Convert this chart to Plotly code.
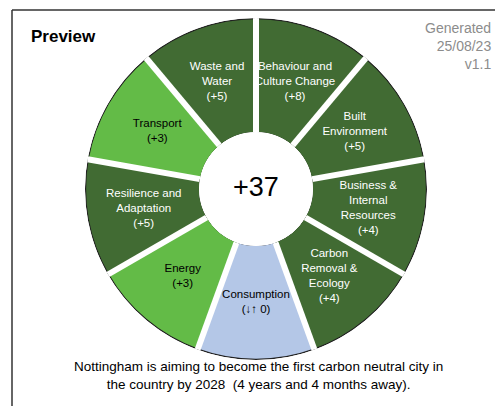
import plotly.graph_objects as go

# ---- data ----
categories = [
    "Behaviour and<br>Culture Change",
    "Built<br>Environment",
    "Business &<br>Internal<br>Resources",
    "Carbon<br>Removal &<br>Ecology",
    "Consumption",
    "Energy",
    "Resilience and<br>Adaptation",
    "Transport",
    "Waste and<br>Water",
]
scores = [8, 5, 4, 4, 0, 3, 5, 3, 5]
colors = ["#416B33", "#416B33", "#416B33", "#416B33", "#B4C7E7",
          "#63BB47", "#416B33", "#63BB47", "#416B33"]
text_colors = ["white", "white", "white", "white", "black",
               "black", "white", "black", "white"]
title_text = "Preview"
generated_text = "Generated<br>25/08/23<br>v1.1"
footer_text = ("Nottingham is aiming to become the first carbon neutral city in<br>"
               "the country by 2028  (4 years and 4 months away).")

# ---- derived ----
n = len(categories)
step = 360 / n
thetas = [step * i + step / 2 for i in range(n)]
labels = [f"{c}<br>({'+' + str(s) if s > 0 else '↓↑ 0'})" for c, s in zip(categories, scores)]
total = sum(scores)

W, H = 495, 406
cx, cy, R = 256, 189, 171

fig = go.Figure()
# black under-layer gives outer outline
fig.add_trace(go.Barpolar(r=[1] * n, theta=thetas, width=[step] * n,
                          marker=dict(color="#222222", line=dict(width=0)),
                          hoverinfo="skip", showlegend=False))
fig.add_trace(go.Barpolar(r=[0.99] * n, theta=thetas, width=[step] * n,
                          marker=dict(color=colors, line=dict(width=0)),
                          hoverinfo="skip", showlegend=False))
# white gaps between segments
gap_t, gap_r = [], []
for i in range(n):
    gap_t += [step * i, step * i, None]
    gap_r += [0, 1, None]
fig.add_trace(go.Scatterpolar(r=gap_r, theta=gap_t, mode="lines",
                              line=dict(color="white", width=6),
                              hoverinfo="skip", showlegend=False))
fig.add_trace(go.Scatterpolar(r=[0.5] * n, theta=thetas, mode="text", text=labels,
                              textfont=dict(family="Liberation Sans, Arial, sans-serif",
                                            size=11.5, color=text_colors),
                              hoverinfo="skip", showlegend=False))

fig.update_layout(
    width=W, height=H,
    margin=dict(l=0, r=0, t=0, b=0),
    paper_bgcolor="white", plot_bgcolor="white",
    polar=dict(
        barmode="overlay",
        domain=dict(x=[(cx - R) / W, (cx + R) / W],
                    y=[1 - (cy + R) / H, 1 - (cy - R) / H]),
        hole=57 / 171,
        bgcolor="rgba(0,0,0,0)",
        radialaxis=dict(visible=False, range=[0, 1]),
        angularaxis=dict(visible=False, direction="clockwise", rotation=90),
    ),
    showlegend=False,
)

fig.add_annotation(x=cx / W, y=1 - (cy - 2) / H, xref="paper", yref="paper",
                   text=f"+{total}", showarrow=False,
                   font=dict(family="Liberation Sans, Arial, sans-serif", size=27, color="black"))
fig.add_annotation(x=29 / W, y=1 - 37 / H, xref="paper", yref="paper",
                   xanchor="left", yanchor="middle", text=f"<b>{title_text}</b>", showarrow=False,
                   font=dict(family="Liberation Sans Narrow, Liberation Sans, Arial Narrow, sans-serif",
                             size=17, color="black"))
fig.add_annotation(x=493 / W, y=1 - 18 / H, xref="paper", yref="paper",
                   xanchor="right", yanchor="top", align="right", text=generated_text,
                   showarrow=False,
                   font=dict(family="Liberation Sans, Arial, sans-serif", size=14, color="#8c8c8c"))
fig.add_annotation(x=258 / W, y=1 - 375 / H, xref="paper", yref="paper",
                   xanchor="center", yanchor="middle", align="center", text=footer_text,
                   showarrow=False,
                   font=dict(family="Liberation Sans, Arial, sans-serif", size=13.5, color="black"))

# frame lines (left and top)
fig.add_shape(type="line", xref="paper", yref="paper", x0=12 / W, x1=12 / W,
              y0=0, y1=1 - 10 / H, line=dict(color="#333333", width=1.5))
fig.add_shape(type="line", xref="paper", yref="paper", x0=12 / W, x1=1,
              y0=1 - 10 / H, y1=1 - 10 / H, line=dict(color="#333333", width=1.5))

fig.write_html("out.html", config={"displayModeBar": False},
               post_script="document.body.style.margin='0';document.body.style.overflow='hidden';")
